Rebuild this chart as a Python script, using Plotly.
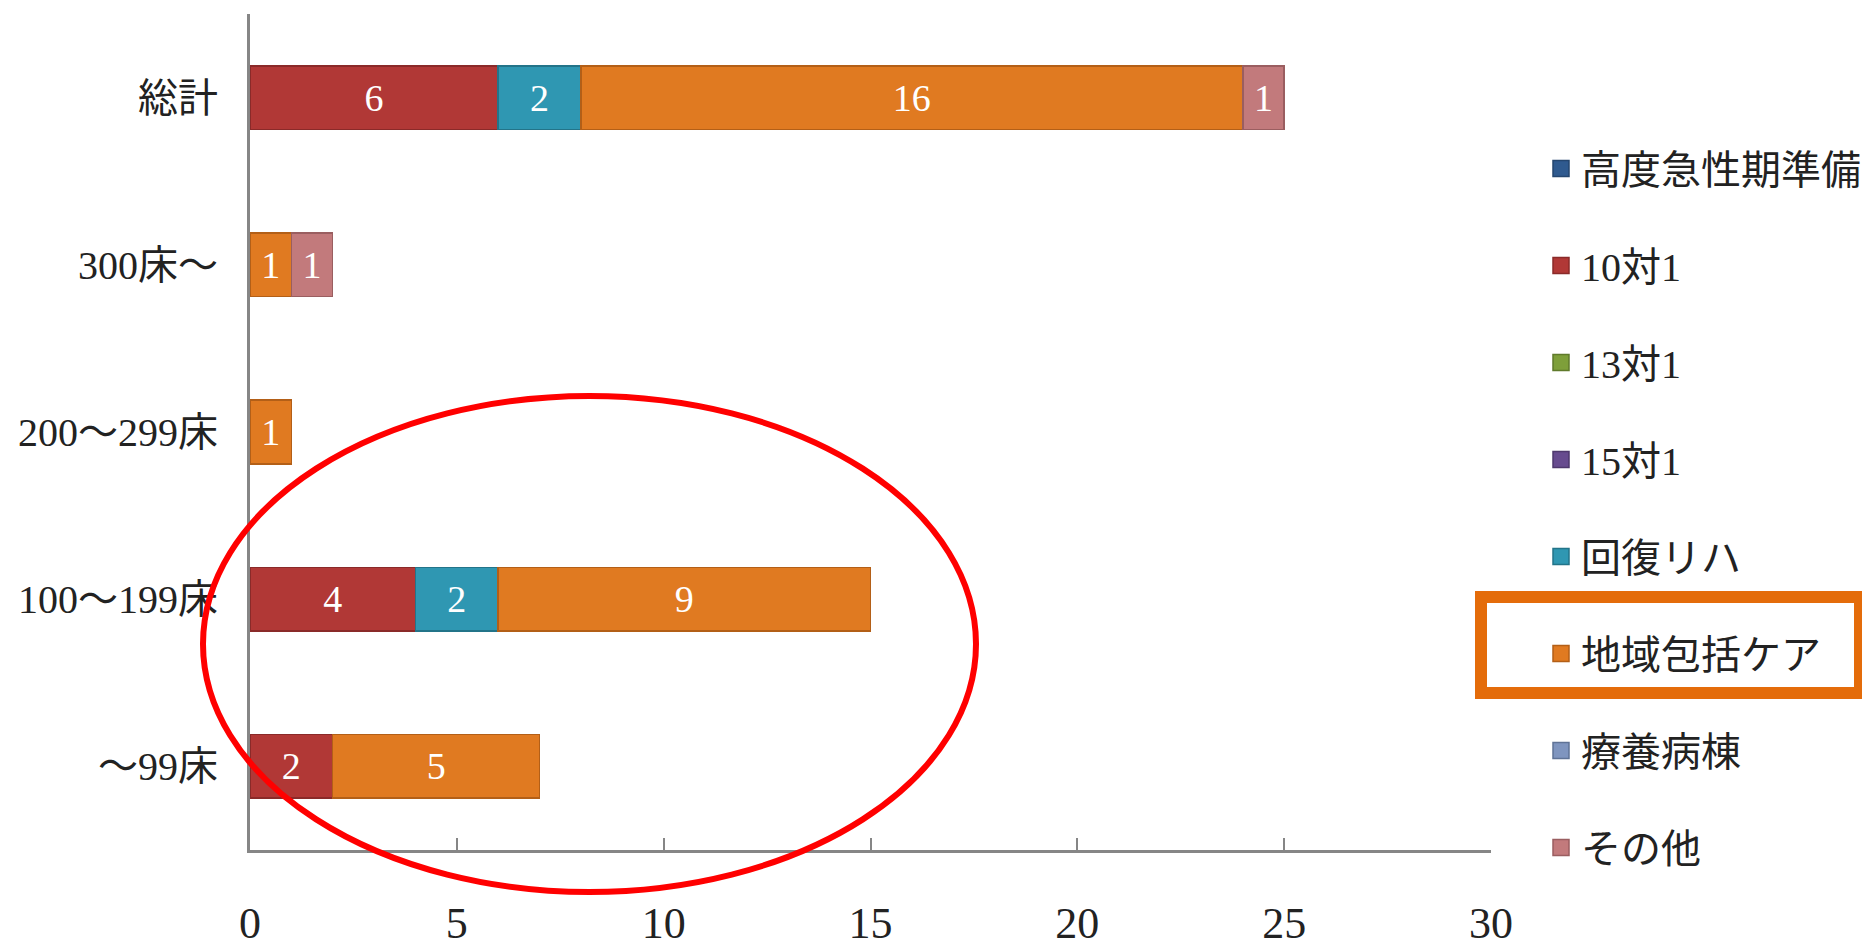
import plotly.graph_objects as go

# categories, bottom to top as drawn
categories = ['～99床', '100～199床', '200～299床', '300床～', '総計']

series_names = ['高度急性期準備', '10対1', '13対1', '15対1', '回復リハ', '地域包括ケア', '療養病棟', 'その他']
high_acute = [0, 0, 0, 0, 0]
ratio_10 = [2, 4, 0, 0, 6]
ratio_13 = [0, 0, 0, 0, 0]
ratio_15 = [0, 0, 0, 0, 0]
rehab = [0, 2, 0, 0, 2]
community_care = [5, 9, 1, 1, 16]
long_term = [0, 0, 0, 0, 0]
other = [0, 0, 0, 1, 1]

series_values = [high_acute, ratio_10, ratio_13, ratio_15, rehab, community_care, long_term, other]
series_colors = ['#2F5A8F', '#B13836', '#7E9F3A', '#674B8F', '#2F97B2', '#E07A21', '#7F95BF', '#C27A7C']
edge_colors = ['#24466F', '#8A2A29', '#5F7A2B', '#4E386D', '#237489', '#B35F17', '#5F7396', '#9A5E60']

x_ticks = [0, 5, 10, 15, 20, 25, 30]

# the page body adds an 8px margin, so the figure is drawn 8px in and down
OFF = 8
W, H = 1870 - OFF, 947 - OFF
L, R, T, B = 242, 379, 6, 97
pw, ph = W - L - R, H - T - B


def px_x(v):
    # page pixel -> paper x
    return (v - OFF - L) / pw


def px_y(v):
    # page pixel -> paper y
    return (H - B - (v - OFF)) / ph


serif = 'Liberation Serif, Noto Sans CJK JP'

fig = go.Figure()
for name, vals, color, edge in zip(series_names, series_values, series_colors, edge_colors):
    fig.add_trace(go.Bar(
        y=categories,
        x=[v if v else None for v in vals],
        name=name,
        orientation='h',
        legendgroup=name,
        showlegend=False,
        marker=dict(color=color, line=dict(color=edge, width=1.5)),
        text=[str(v) if v else '' for v in vals],
        textposition='inside',
        insidetextanchor='middle',
        constraintext='none',
        textfont=dict(family=serif, size=38, color='white'),
        width=0.38,
    ))
    # legend swatch (bigger square than the bar legend icon)
    fig.add_trace(go.Scatter(
        x=[None], y=[None], mode='markers', name=name, legendgroup=name,
        marker=dict(symbol='square', size=16, color=color, line=dict(color=edge, width=1.5)),
        hoverinfo='skip',
    ))

# red ellipse and orange highlight box around the legend entry
fig.add_shape(type='circle', xref='paper', yref='paper',
              x0=px_x(203), x1=px_x(976), y0=px_y(892), y1=px_y(396),
              line=dict(color='#FF0000', width=6), layer='above')
fig.add_shape(type='rect', xref='paper', yref='paper',
              x0=px_x(1481), x1=px_x(1860), y0=px_y(693), y1=px_y(597),
              line=dict(color='#E46C0A', width=12), layer='above')

fig.update_layout(
    width=W, height=H,
    margin=dict(l=L, r=R, t=T, b=B, autoexpand=False),
    barmode='stack',
    plot_bgcolor='white',
    paper_bgcolor='white',
    font=dict(family=serif, size=40, color='#222222'),
    legend=dict(
        x=px_x(1541), xanchor='left',
        y=px_y(136), yanchor='top',
        traceorder='grouped',
        tracegroupgap=42,
        bgcolor='rgba(0,0,0,0)',
        font=dict(family=serif, size=40, color='#222222'),
        itemwidth=30,
    ),
    showlegend=True,
)

fig.update_xaxes(
    range=[0, 30], tickvals=x_ticks,
    showgrid=False, zeroline=False, automargin=False,
    showline=True, linecolor='#868686', linewidth=3,
    ticks='inside', ticklen=12, tickwidth=2, tickcolor='#868686',
    tickfont=dict(family=serif, size=44, color='#222222'),
    ticklabelstandoff=32,
)
fig.update_yaxes(
    categoryorder='array', categoryarray=categories,
    showgrid=False, zeroline=False, automargin=False,
    showline=True, linecolor='#868686', linewidth=3,
    ticks='', ticklabelstandoff=21,
    tickfont=dict(family=serif, size=40, color='#222222'),
)

fig.write_html("out.html")
